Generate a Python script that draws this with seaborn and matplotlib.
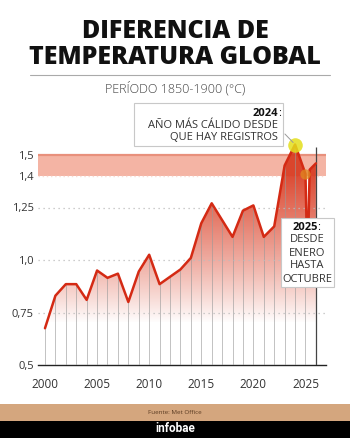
import numpy as np
import pandas as pd
import matplotlib
matplotlib.use("Agg")
import matplotlib.pyplot as plt
import seaborn as sns
from matplotlib.patches import Rectangle

# datos (Met Office, diferencia respecto a 1850-1900, en °C)
years = list(range(2000, 2026))
anomaly = [0.675, 0.83, 0.885, 0.885, 0.81, 0.95, 0.915, 0.935, 0.80, 0.945,
           1.025, 0.885, 0.92, 0.955, 1.01, 1.175, 1.27, 1.19, 1.11, 1.235,
           1.26, 1.11, 1.16, 1.45, 1.55, 1.41]
# tramo final del gráfico original (caída y subida tras 2025)
tail_x = [2025.2, 2025.4, 2026]
tail_y = [0.95, 1.43, 1.46]

yticks = [0.5, 0.75, 1.0, 1.25, 1.4, 1.5]
ytick_labels = ["0,5", "0,75", "1,0", "1,25", "1,4", "1,5"]
xticks = [2000, 2005, 2010, 2015, 2020, 2025]
band = (1.4, 1.5)

df = pd.DataFrame({"year": years + tail_x, "value": anomaly + tail_y})

sns.set_theme(style="white")
plt.rcParams["font.family"] = ["Open Sans", "DejaVu Sans"]

W, H = 350, 438
fig = plt.figure(figsize=(W / 100, H / 100), dpi=100)
fig.patch.set_facecolor("white")


def fx(x):
    return x / W


def fy(y):
    return 1 - y / H


x0, x1 = 1999.33, 2026.97
ax = fig.add_axes([fx(38), fy(365), fx(326) - fx(38), fy(134) - fy(365)])
ax.set_xlim(x0, x1)
ax.set_ylim(0.5, 1.6)
ax.patch.set_alpha(0)

# banda 1,4 - 1,5
ax.axhspan(band[0], band[1], color="#f4b4a4", zorder=1, lw=0)
ax.axhline(band[1], color="#e8907c", lw=1.6, zorder=1.5)
ax.axhline(band[0], color="#f8dcd4", lw=1.0, ls=(0, (1, 2)), zorder=1.5)

# líneas de cuadrícula punteadas
for v in [0.75, 1.0, 1.25]:
    ax.axhline(v, color="#bdbdbd", lw=0.9, ls=(0, (1, 3)), zorder=4)

# relleno en degradado
yy = np.linspace(0.5, 1.6, 300)
alpha = np.clip((yy - 0.7) / (1.4 - 0.7), 0, 1) ** 0.9 * 0.9
rgba = np.zeros((300, 2, 4))
rgba[..., 0] = 0.85
rgba[..., 1] = 0.22
rgba[..., 2] = 0.12
rgba[..., 3] = alpha[:, None]
im = ax.imshow(rgba, extent=[x0, x1, 0.5, 1.6], origin="lower",
               aspect="auto", zorder=2, interpolation="bilinear")
poly = ax.fill_between(df["year"], df["value"], 0.5, color="none", lw=0)
im.set_clip_path(poly.get_paths()[0], transform=ax.transData)
ax.set_xlim(x0, x1)
ax.set_ylim(0.5, 1.6)

# líneas verticales por año
ax.vlines(years, 0.5, anomaly, color="#999999", lw=0.6, alpha=0.7, zorder=3)
ax.vlines([2026], 0.5, 1.54, color="#444444", lw=0.9, zorder=3)

# línea principal
sns.lineplot(data=df, x="year", y="value", ax=ax, color="#d42a14", lw=1.8,
             zorder=5, legend=False)
ax.set_xlabel("")
ax.set_ylabel("")

# círculos 2024 y 2025
ax.scatter([2024], [anomaly[-2]], s=110, color="#e3df1c", alpha=0.85,
           zorder=6, lw=0, clip_on=False)
ax.scatter([2025], [anomaly[-1]], s=55, color="#e08a20", alpha=0.75,
           zorder=6, lw=0, clip_on=False)

# ejes
for s in ["top", "right", "left"]:
    ax.spines[s].set_visible(False)
ax.spines["bottom"].set_color("#222222")
ax.spines["bottom"].set_linewidth(1.0)
ax.set_yticks(yticks)
ax.set_yticklabels(ytick_labels)
ax.set_xticks(xticks)
ax.set_xticklabels([str(x) for x in xticks])
ax.tick_params(axis="y", length=0, pad=3, labelsize=8, labelcolor="#333333")
ax.tick_params(axis="x", length=0, pad=9, labelsize=8.5, labelcolor="#333333")
ax.grid(False)

# títulos
fig.text(0.5, fy(31), "DIFERENCIA DE", ha="center", va="center",
         fontsize=18, fontweight="heavy", color="#111111")
fig.text(0.5, fy(58), "TEMPERATURA GLOBAL", ha="center", va="center",
         fontsize=18, fontweight="heavy", color="#111111")
fig.add_artist(plt.Line2D([fx(30), fx(330)], [fy(75), fy(75)],
                          color="#aaaaaa", lw=0.8))
fig.text(0.5, fy(88), "PERÍODO 1850-1900 (°C)", ha="center", va="center",
         fontsize=9, fontweight="light", color="#444444")

# caja 2024
fig.add_artist(Rectangle((fx(134), fy(146)), fx(283) - fx(134), fy(103) - fy(146),
                         transform=fig.transFigure, facecolor="white",
                         edgecolor="#c8c8c8", lw=0.8, zorder=7))
fig.text(fx(278), fy(113), "2024", ha="right", va="center", fontsize=8,
         fontweight="bold", color="#111111", zorder=8)
fig.text(fx(278), fy(113), ":", ha="left", va="center", fontsize=8,
         color="#111111", zorder=8)
fig.text(fx(278), fy(125), "AÑO MÁS CÁLIDO DESDE", ha="right", va="center",
         fontsize=8, color="#333333", zorder=8)
fig.text(fx(278), fy(137), "QUE HAY REGISTROS", ha="right", va="center",
         fontsize=8, color="#333333", zorder=8)
ax.annotate("", xy=(2024, anomaly[-2]), xycoords="data",
            xytext=(fx(283), fy(132)), textcoords="figure fraction",
            arrowprops=dict(arrowstyle="-", color="#999999", lw=0.7),
            zorder=6)

# caja 2025
fig.add_artist(Rectangle((fx(281), fy(287)), fx(334) - fx(281), fy(218) - fy(287),
                         transform=fig.transFigure, facecolor="white",
                         edgecolor="#c8c8c8", lw=0.8, zorder=7))
fig.text(fx(305), fy(227), "2025", ha="center", va="center", fontsize=8,
         fontweight="bold", color="#111111", zorder=8)
fig.text(fx(317), fy(227), ":", ha="left", va="center", fontsize=8,
         color="#111111", zorder=8)
for i, t in enumerate(["DESDE", "ENERO", "HASTA", "OCTUBRE"]):
    fig.text(fx(307.5), fy(240 + 13 * i), t, ha="center", va="center",
             fontsize=8, color="#333333", zorder=8)

# pie
fig.add_artist(Rectangle((0, fy(421)), 1, fy(404) - fy(421),
                         transform=fig.transFigure, facecolor="#d4a67e",
                         lw=0, zorder=1))
fig.add_artist(Rectangle((0, 0), 1, fy(421), transform=fig.transFigure,
                         facecolor="black", lw=0, zorder=1))
fig.text(0.5, fy(412.5), "Fuente: Met Office", ha="center", va="center",
         fontsize=4.5, color="#5a3b22", zorder=2)
fig.text(0.5, fy(429), "infobae", ha="center", va="center", fontsize=8.5,
         fontweight="bold", color="white", family="Roboto", zorder=2)

fig.savefig("out.png", dpi=100)
